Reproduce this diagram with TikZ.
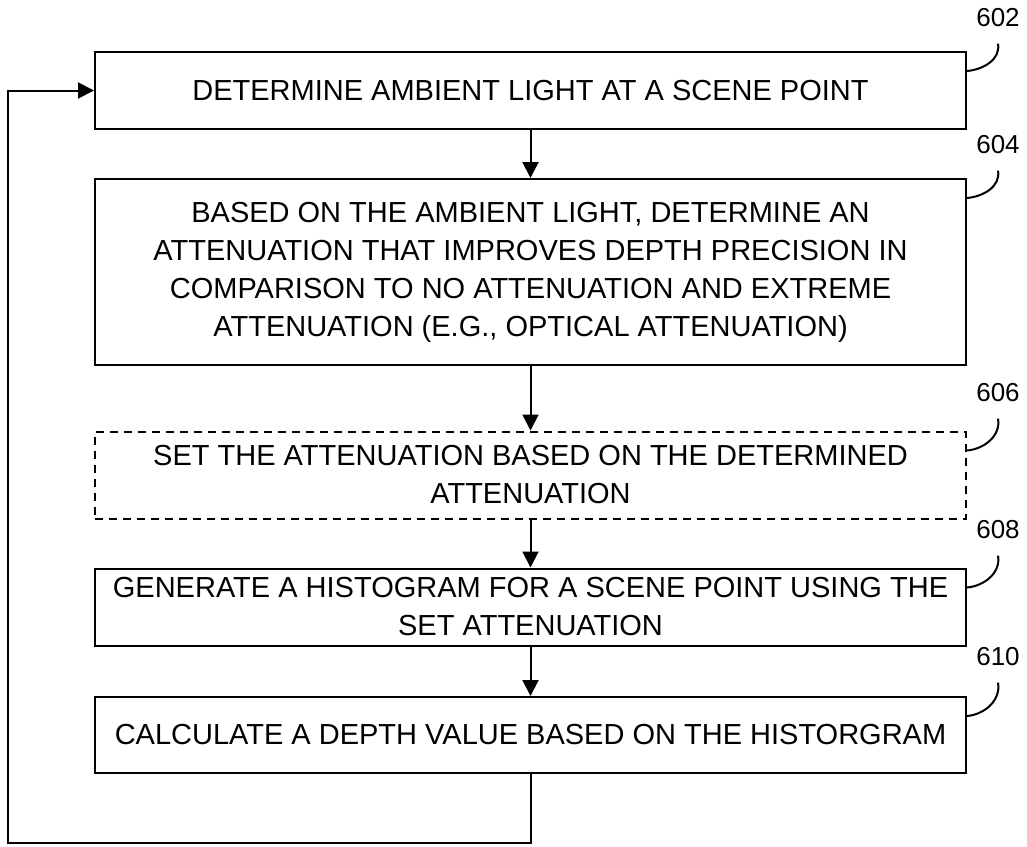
\documentclass[tikz,border=0pt]{standalone}
\usepackage{fontspec}
\setmainfont{Liberation Sans}
\usetikzlibrary{arrows.meta}

\tikzset{
  stepbox/.style={draw, line width=1pt, minimum width=435.5pt, inner sep=0pt,
    align=center, font=\fontsize{14.5}{19}\selectfont},
  reflabel/.style={inner sep=0pt, font=\fontsize{13}{15}\selectfont},
  flow/.style={-{Triangle[width=8pt,length=8pt]}, line width=1pt},
  leader/.style={line width=1pt},
}

\begin{document}
\begin{tikzpicture}[x=0.5pt, y=-0.5pt]
\useasboundingbox (0,0) rectangle (1027,846);

% Steps of the method (all centred on x = 530.5)
\node[stepbox, minimum height=38.5pt] (s602) at (530.5,90.5)
  {DETERMINE AMBIENT LIGHT AT A SCENE POINT};
\node[stepbox, minimum height=93pt] (s604) at (530.5,272)
  {BASED ON THE AMBIENT LIGHT, DETERMINE AN\\
   ATTENUATION THAT IMPROVES DEPTH PRECISION IN\\
   COMPARISON TO NO ATTENUATION AND EXTREME\\
   ATTENUATION (E.G., OPTICAL ATTENUATION)};
\node[stepbox, dash pattern=on 4pt off 3pt, minimum height=43.5pt] (s606) at (530.5,475)
  {SET THE ATTENUATION BASED ON THE DETERMINED\\
   ATTENUATION};
\node[stepbox, minimum height=38.5pt] (s608) at (530.5,607)
  {GENERATE A HISTOGRAM FOR A SCENE POINT USING THE\\
   SET ATTENUATION};
\node[stepbox, minimum height=38pt] (s610) at (530.5,735)
  {CALCULATE A DEPTH VALUE BASED ON THE HISTORGRAM};

% Reference numerals
\node[reflabel] (l602) at (998,18)  {602};
\node[reflabel] (l604) at (998,145) {604};
\node[reflabel] (l606) at (998,393) {606};
\node[reflabel] (l608) at (998,530) {608};
\node[reflabel] (l610) at (998,657) {610};

% Leader lines from numerals to boxes
\foreach \n in {602,604,606,608,610}
  \draw[leader] ([yshift=-10pt]s\n.north east) to[out=5,in=-80] ([yshift=-8pt]l\n.south);

% Flow arrows
\draw[flow] (s602) -- (s604);
\draw[flow] (s604) -- (s606);
\draw[flow] (s606) -- (s608);
\draw[flow] (s608) -- (s610);

% Loop back to the first step
\coordinate (loopcorner) at (8,843);
\draw[flow] (s610.south) |- (loopcorner) |- (s602.west);
\end{tikzpicture}
\end{document}
